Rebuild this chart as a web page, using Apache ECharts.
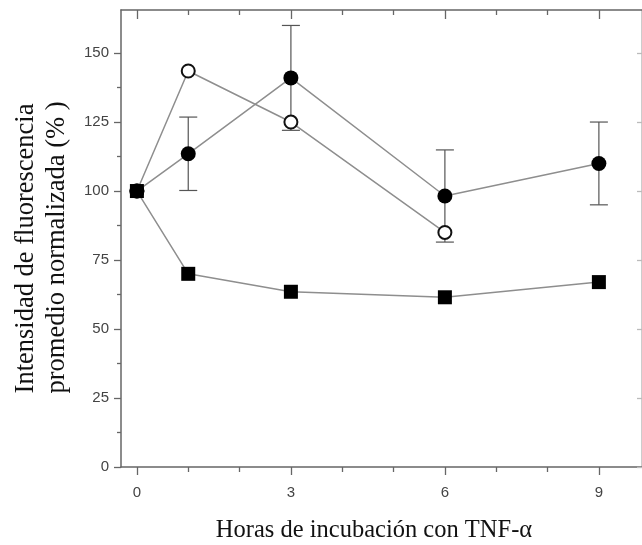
<!DOCTYPE html>
<html>
<head>
<meta charset="utf-8">
<script src="https://cdn.jsdelivr.net/npm/echarts@6/dist/echarts.min.js"></script>
<style>
html,body{margin:0;padding:0;background:#fff;}
#chart{width:642px;height:545px;}
</style>
</head>
<body>
<div id="chart"></div>
<script>
// ---- data ----
const hours = [0, 1, 3, 6, 9];
const squareValues = [100, 70, 63.5, 61.5, 67];
const filledValues = [100, 113.5, 141, 98.2, 110];
const filledErrors = [0, 13.3, 19, 16.7, 15];
const openHours = [0, 1, 3, 6];
const openValues = [100, 143.5, 125, 85];

const xMajorTicks = [0, 3, 6, 9];
const xMinorTicks = [1, 2, 4, 5, 7, 8];
const yMajorTicks = [0, 25, 50, 75, 100, 125, 150];
const yMinorTicks = [12.5, 37.5, 62.5, 87.5, 112.5, 137.5];

const xTitle = 'Horas de incubación con TNF-α';
const yTitle1 = 'Intensidad de fluorescencia';
const yTitle2 = 'promedio normalizada (% )';

// ---- chart ----
const X_MIN = -0.31, X_MAX = 9.84, Y_MIN = 0, Y_MAX = 165.6;
const axisCol = '#666';
const lineCol = '#8e8e8e';

function xAx(pos, ticks, len, inside, showLine, showLabel) {
  return {
    type: 'value', position: pos, min: X_MIN, max: X_MAX,
    splitLine: {show: false},
    axisLine: {show: showLine, onZero: false, lineStyle: {color: axisCol, width: 1.5}},
    axisTick: {show: true, inside: inside, length: len, customValues: ticks, lineStyle: {color: axisCol, width: 1.3}},
    axisLabel: {show: showLabel, customValues: ticks, margin: 18, fontFamily: 'Liberation Sans', fontSize: 15, color: '#444'}
  };
}
function yAx(pos, ticks, len, inside, showLine, showLabel, col) {
  return {
    type: 'value', position: pos, min: Y_MIN, max: Y_MAX,
    splitLine: {show: false},
    axisLine: {show: showLine, onZero: false, lineStyle: {color: col || axisCol, width: 1.5}},
    axisTick: {show: true, inside: inside, length: len, customValues: ticks, lineStyle: {color: col || axisCol, width: 1.3}},
    axisLabel: {show: showLabel, customValues: ticks, margin: 12, fontFamily: 'Liberation Sans', fontSize: 15, color: '#444'}
  };
}

const filledData = hours.map((h, i) => [h, filledValues[i]]);
const squareData = hours.map((h, i) => [h, squareValues[i]]);
const openData = openHours.map((h, i) => [h, openValues[i]]);
const errData = hours.map((h, i) => [h, filledValues[i] - filledErrors[i], filledValues[i] + filledErrors[i]])
  .filter((d, i) => filledErrors[i] > 0);

const chart = echarts.init(document.getElementById('chart'), null, {renderer: 'canvas'});
chart.setOption({
  animation: false,
  backgroundColor: '#fff',
  grid: {left: 121, top: 10, right: 0, bottom: 78, containLabel: false},
  xAxis: [
    xAx('bottom', xMajorTicks, 8, false, true, true),
    xAx('bottom', xMinorTicks, 5, false, false, false),
    xAx('top', xMajorTicks, 9, true, true, false),
    xAx('top', xMinorTicks, 5, true, false, false)
  ],
  yAxis: [
    yAx('left', yMajorTicks, 7, false, true, true),
    yAx('left', yMinorTicks, 4, false, false, false),
    yAx('right', yMajorTicks, 5, true, true, false, '#bbb')
  ],
  graphic: [
    {type: 'text', x: 374, y: 531, style: {text: xTitle, font: '24.5px "Liberation Serif"', fill: '#111', align: 'center', verticalAlign: 'middle'}},
    {type: 'text', x: 26.5, y: 248.5, rotation: Math.PI / 2, style: {text: yTitle1, font: '26.5px "Liberation Serif"', fill: '#111', align: 'center', verticalAlign: 'middle'}},
    {type: 'text', x: 57.5, y: 247.5, rotation: Math.PI / 2, style: {text: yTitle2, font: '26.5px "Liberation Serif"', fill: '#111', align: 'center', verticalAlign: 'middle'}}
  ],
  series: [
    {
      type: 'custom', xAxisIndex: 0, yAxisIndex: 0, z: 1,
      data: errData,
      encode: {x: 0, y: [1, 2]},
      renderItem: function (params, api) {
        const x = api.value(0);
        const lo = api.coord([x, api.value(1)]);
        const hi = api.coord([x, api.value(2)]);
        const w = 9;
        const st = {stroke: '#555', lineWidth: 1.2};
        return {type: 'group', children: [
          {type: 'line', shape: {x1: lo[0], y1: lo[1], x2: hi[0], y2: hi[1]}, style: st},
          {type: 'line', shape: {x1: lo[0] - w, y1: lo[1], x2: lo[0] + w, y2: lo[1]}, style: st},
          {type: 'line', shape: {x1: hi[0] - w, y1: hi[1], x2: hi[0] + w, y2: hi[1]}, style: st}
        ]};
      }
    },
    {
      type: 'line', xAxisIndex: 0, yAxisIndex: 0, z: 2,
      data: openData,
      symbol: 'circle', symbolSize: 13,
      lineStyle: {color: lineCol, width: 1.5},
      itemStyle: {color: '#fff', borderColor: '#111', borderWidth: 2},
    },
    {
      type: 'line', xAxisIndex: 0, yAxisIndex: 0, z: 3,
      data: filledData,
      symbol: 'circle', symbolSize: 15,
      lineStyle: {color: lineCol, width: 1.5},
      itemStyle: {color: '#000', borderColor: '#000', borderWidth: 0},
    },
    {
      type: 'line', xAxisIndex: 0, yAxisIndex: 0, z: 4,
      data: squareData,
      symbol: 'rect', symbolSize: 14,
      lineStyle: {color: lineCol, width: 1.5},
      itemStyle: {color: '#000', borderColor: '#000', borderWidth: 0},
    }
  ]
});
</script>
</body>
</html>
